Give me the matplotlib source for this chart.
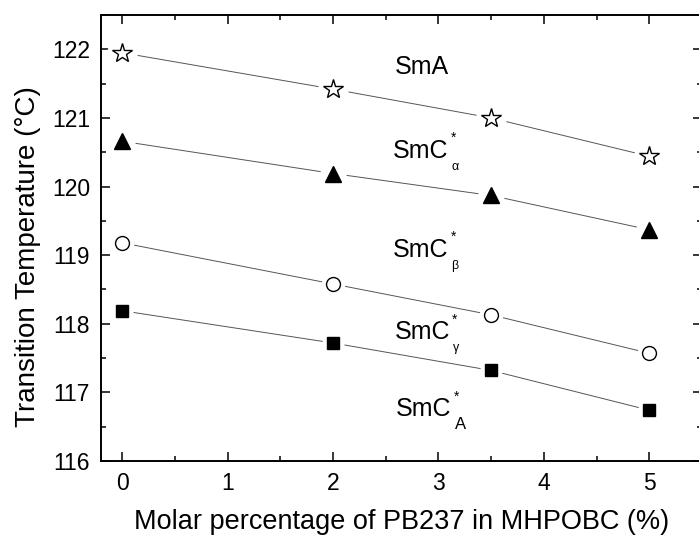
import numpy as np
import matplotlib
matplotlib.use("Agg")
import matplotlib.pyplot as plt

plt.rcParams['font.family'] = ['Liberation Sans', 'DejaVu Sans']

# Data
molar_pct = [0, 2, 3.5, 5]
t_sma = [121.95, 121.42, 121.00, 120.44]        # open stars
t_smc_alpha = [120.66, 120.19, 119.87, 119.37]  # filled triangles
t_smc_beta = [119.18, 118.58, 118.13, 117.57]   # open circles
t_smc_gamma = [118.19, 117.72, 117.32, 116.74]  # filled squares

# phase labels: main text, subscript
phase_main = ["SmA", "SmC", "SmC", "SmC", "SmC"]
phase_sub = ["", "\u03b1", "\u03b2", "\u03b3", "A"]
label_x = [2.585, 2.57, 2.57, 2.585, 2.60]
label_y = [121.64, 120.42, 118.98, 117.78, 116.65]

fig = plt.figure(figsize=(6.99, 5.36), dpi=100)
ax = fig.add_axes([101/699, 75/536, 601/699, 446/536])

series = [
    (t_sma, '*', 'white', 15),
    (t_smc_alpha, '^', 'black', 12),
    (t_smc_beta, 'o', 'white', 10),
    (t_smc_gamma, 's', 'black', 9),
]
for yvals, mk, fc, ms in series:
    ax.plot(molar_pct, yvals, '-', color='#555555', lw=0.7, zorder=1)
    # white halo so the line stops short of the marker
    ax.plot(molar_pct, yvals, 'o', color='white', ms=ms + 7, mec='none', zorder=2)
    ax.plot(molar_pct, yvals, mk, mfc=fc, mec='black', mew=1.0, ms=ms, zorder=3,
            linestyle='none')

for i in range(len(phase_main)):
    ax.text(label_x[i], label_y[i], phase_main[i], fontsize=18, ha='left', va='baseline')
    if phase_sub[i]:
        # asterisk up, subscript down, right after "SmC"
        ax.annotate("*", (label_x[i], label_y[i]), xytext=(41.5, 9), textcoords='offset points',
                    fontsize=10, ha='left', va='bottom')
        sub_fs = 12 if phase_sub[i] == "A" else 9
        ax.annotate(phase_sub[i], (label_x[i], label_y[i]), xytext=(42, -9),
                    textcoords='offset points', fontsize=sub_fs, ha='left', va='baseline')

ax.set_xlim(-0.2, 5.5)
ax.set_ylim(116, 122.5)
ax.set_xticks([0, 1, 2, 3, 4, 5])
ax.set_xticks(np.arange(0, 5.6, 0.5), minor=True)
ax.set_yticks([116, 117, 118, 119, 120, 121, 122])
ax.set_yticks(np.arange(116, 122.6, 0.5), minor=True)

ax.tick_params(which='both', direction='in', top=True, right=True, width=1.1,
               labelsize=16.5)
ax.tick_params(which='major', length=6.5)
ax.tick_params(axis='y', which='major', pad=8)
ax.tick_params(axis='x', which='major', pad=8)
ax.tick_params(which='minor', length=3.5)
for sp in ax.spines.values():
    sp.set_linewidth(1.4)

ax.set_xlabel("Molar percentage of PB237 in MHPOBC (%)", fontsize=19.5)
ax.set_ylabel("Transition Temperature (\u00b0C)", fontsize=20)
ax.xaxis.set_label_coords(0.5, -0.107)
ax.yaxis.set_label_coords(-0.1, 0.4585)

fig.savefig("out.png", dpi=100)
